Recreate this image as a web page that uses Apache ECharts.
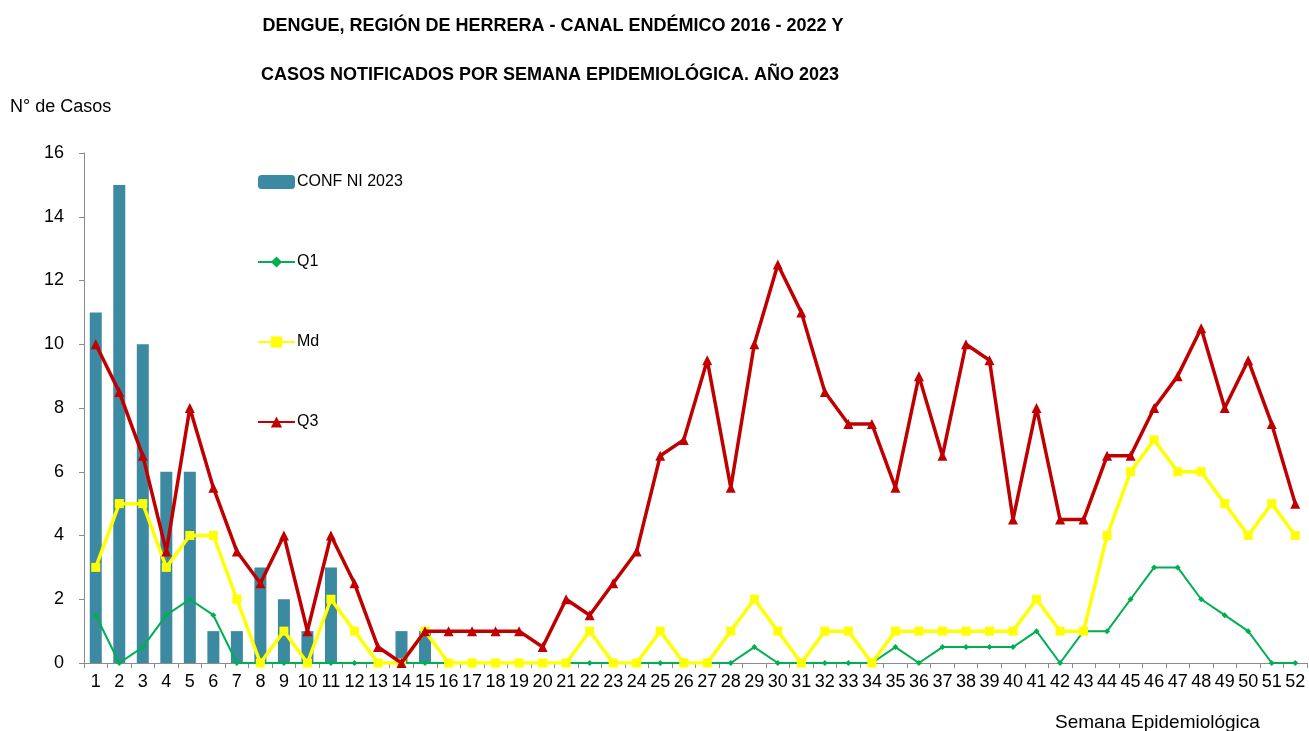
<!DOCTYPE html>
<html>
<head>
<meta charset="utf-8">
<title>Dengue Herrera - Canal endémico</title>
<script src="https://cdn.jsdelivr.net/npm/echarts@6.0.0/dist/echarts.min.js"></script>
<style>
  html, body { margin: 0; padding: 0; background: #fff; }
  #chart { width: 1309px; height: 731px; }
</style>
</head>
<body>
<div id="chart"></div>
<script>
// semanas epidemiológicas 1..52
const semanas = ['1','2','3','4','5','6','7','8','9','10','11','12','13','14','15','16','17','18','19','20','21','22','23','24','25','26',
  '27','28','29','30','31','32','33','34','35','36','37','38','39','40','41','42','43','44','45','46','47','48','49','50','51','52']

const confNi2023 = [11,15,10,6,6,1,1,3,2,1,3,0,0,1,1,0,0,0,0,0,0,0,0,0,0,0,
  0,0,0,0,0,0,0,0,0,0,0,0,0,0,0,0,0,0,0,0,0,0,0,0,0,0]

const q1 = [1.5,0,0.5,1.5,2,1.5,0,0,0,0,0,0,0,0,0,0,0,0,0,0,0,0,0,0,0,0,
  0,0,0.5,0,0,0,0,0,0.5,0,0.5,0.5,0.5,0.5,1,0,1,1,2,3,3,2,1.5,1,0,0]

const md = [3,5,5,3,4,4,2,0,1,0,2,1,0,0,1,0,0,0,0,0,0,1,0,0,1,0,
  0,1,2,1,0,1,1,0,1,1,1,1,1,1,2,1,1,4,6,7,6,6,5,4,5,4]

const q3 = [10,8.5,6.5,3.5,8,5.5,3.5,2.5,4,1,4,2.5,0.5,0,1,1,1,1,1,0.5,2,1.5,2.5,3.5,6.5,7,
  9.5,5.5,10,12.5,11,8.5,7.5,7.5,5.5,9,6.5,10,9.5,4.5,8,4.5,4.5,6.5,6.5,8,9,10.5,8,9.5,7.5,5]

const yTicks = [0,2,4,6,8,10,12,14,16]

const FONT = 'Liberation Sans, Noto Sans, sans-serif'

let chart = echarts.init(document.getElementById('chart'))

let option = {
  animation: false,
  backgroundColor: '#fff',
  textStyle: { fontFamily: FONT, color: '#000' },
  title: [
    {
      text: 'DENGUE, REGIÓN DE HERRERA - CANAL ENDÉMICO 2016 - 2022 Y',
      left: 548, top: 12, textAlign: 'center',
      textStyle: { fontFamily: FONT, fontSize: 18, fontWeight: 'bold', color: '#000' }
    },
    {
      text: 'CASOS NOTIFICADOS POR SEMANA EPIDEMIOLÓGICA. AÑO 2023',
      left: 545, top: 61, textAlign: 'center',
      textStyle: { fontFamily: FONT, fontSize: 18, fontWeight: 'bold', color: '#000' }
    }
  ],
  legend: {
    orient: 'vertical',
    left: 252,
    top: 169,
    itemGap: 64,
    itemWidth: 37,
    itemHeight: 14,
    textStyle: { fontFamily: FONT, fontSize: 16, color: '#000', padding: [0, 0, 0, -3] },
    data: ['CONF NI 2023', 'Q1', 'Md', 'Q3']
  },
  grid: {
    left: 84,
    right: 2,
    top: 153,
    bottom: 68,
    containLabel: false
  },
  xAxis: {
    type: 'category',
    data: semanas,
    boundaryGap: true,
    axisLine: { lineStyle: { color: '#8c8c8c', width: 1 } },
    axisTick: { show: true, alignWithLabel: false, length: 5, lineStyle: { color: '#8c8c8c' } },
    axisLabel: { interval: 0, margin: 10, fontSize: 18, color: '#000', fontFamily: FONT },
    splitLine: { show: false }
  },
  yAxis: {
    type: 'value',
    min: yTicks[0],
    max: yTicks[yTicks.length - 1],
    interval: 2,
    axisLine: { show: true, lineStyle: { color: '#8c8c8c', width: 1 } },
    axisTick: { show: true, length: 5, lineStyle: { color: '#8c8c8c' } },
    axisLabel: { margin: 20, fontSize: 18, color: '#000', fontFamily: FONT },
    splitLine: { show: false }
  },
  graphic: [
    {
      type: 'text', left: 10, top: 98,
      style: { text: 'N° de Casos', fontSize: 18, fontFamily: FONT, fill: '#000' }
    },
    {
      type: 'text', left: 1055, top: 713,
      style: { text: 'Semana Epidemiológica', fontSize: 19, fontFamily: FONT, fill: '#000' }
    }
  ],
  series: [
    {
      name: 'CONF NI 2023',
      type: 'bar',
      barWidth: 12,
      itemStyle: { color: '#3b8aa1' },
      z: 1,
      data: confNi2023
    },
    {
      name: 'Q1',
      type: 'line',
      symbol: 'diamond',
      symbolSize: 6,
      itemStyle: { color: '#00b050' },
      lineStyle: { color: '#00b050', width: 2 },
      z: 3,
      data: q1
    },
    {
      name: 'Md',
      type: 'line',
      symbol: 'rect',
      symbolSize: 9,
      itemStyle: { color: '#ffff00' },
      lineStyle: { color: '#ffff00', width: 3.5 },
      z: 4,
      data: md
    },
    {
      name: 'Q3',
      type: 'line',
      symbol: 'triangle',
      symbolSize: 10,
      itemStyle: { color: '#c00000' },
      lineStyle: { color: '#c00000', width: 3.5 },
      z: 5,
      data: q3
    }
  ]
}

chart.setOption(option)
window.addEventListener('resize', () => {
  chart.resize()
})
</script>
</body>
</html>
